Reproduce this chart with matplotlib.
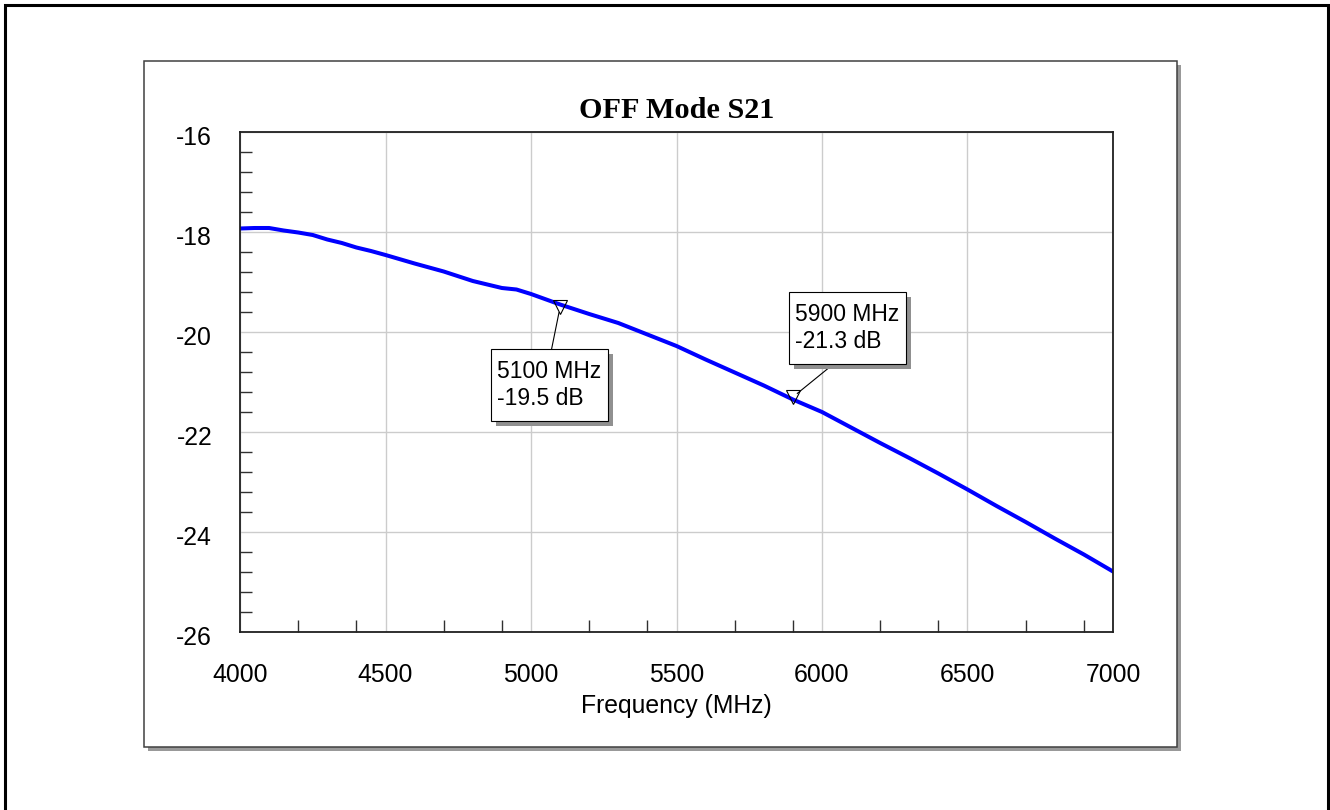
import matplotlib
matplotlib.use("Agg")
import matplotlib.pyplot as plt
import matplotlib.patheffects as pe
import matplotlib.transforms as mtransforms
from matplotlib.patches import Rectangle
from matplotlib.path import Path
from matplotlib.ticker import MultipleLocator, FixedLocator

plt.rcParams['font.family'] = ['Liberation Sans', 'DejaVu Sans']
plt.rcParams['axes.unicode_minus'] = False

# measured trace, OFF mode S21
freq = [4000, 4050, 4100, 4150, 4200, 4250, 4300, 4350, 4400, 4450, 4500,
        4600, 4700, 4800, 4900, 4950, 5000, 5100, 5200, 5300, 5400, 5500,
        5600, 5700, 5800, 5900, 6000, 6100, 6200, 6300, 6400, 6500, 6600,
        6700, 6800, 6900, 7000]
s21 = [-17.93, -17.92, -17.92, -17.97, -18.01, -18.06, -18.15, -18.22, -18.31,
       -18.38, -18.46, -18.63, -18.79, -18.98, -19.12, -19.15, -19.24, -19.45,
       -19.64, -19.82, -20.05, -20.28, -20.55, -20.81, -21.07, -21.35, -21.60,
       -21.91, -22.22, -22.52, -22.83, -23.15, -23.48, -23.80, -24.13, -24.45,
       -24.79]

# markers
mk_freq = [5100, 5900]
mk_val = [-19.5, -21.3]
mk_text = ["5100 MHz\n-19.5 dB", "5900 MHz\n-21.3 dB"]
mk_box = [(5063, -21.06), (6087, -19.92)]   # box centres
mk_rel = [(0.5, 1.0), (0.5, 0.0)]

x_ticks = [4000, 4500, 5000, 5500, 6000, 6500, 7000]
y_ticks = [-26, -24, -22, -20, -18, -16]

W, H = 1330, 810
fig = plt.figure(figsize=(W / 100, H / 100), dpi=100)


def px(x0, y0, x1, y1):
    # pixel box -> figure fraction rect
    return x0 / W, 1 - y1 / H, (x1 - x0) / W, (y1 - y0) / H


def marker_box(x0, y0, width, height, mutation_size):
    # square box, less padding left/right than top/bottom
    dx = 0.275 * mutation_size
    dy = 0.47 * mutation_size
    x0, x1 = x0 - dx, x0 + width + dx
    y0, y1 = y0 - dy, y0 + height + dy
    return Path([(x0, y0), (x1, y0), (x1, y1), (x0, y1), (x0, y0)], closed=True)


# outer frame
fig.patches.append(Rectangle((4.5 / W, -0.05), (1327.5 - 4.5) / W, 1 - 5 / H + 0.05,
                             transform=fig.transFigure, fill=False,
                             edgecolor='black', lw=2.2, zorder=-3))
# inner panel with drop shadow
l, b, w, h = px(148, 65, 1181, 751)
fig.patches.append(Rectangle((l, b), w, h, transform=fig.transFigure,
                             facecolor='#999999', edgecolor='none', zorder=-2))
l, b, w, h = px(144, 61, 1177, 747)
fig.patches.append(Rectangle((l, b), w, h, transform=fig.transFigure,
                             facecolor='white', edgecolor='#404040', lw=1.1, zorder=-1))

ax = fig.add_axes(px(240, 132, 1113, 632))
ax.plot(freq, s21, color='#0000ff', lw=2.9, solid_joinstyle='round')

ax.set_xlim(4000, 7000)
ax.set_ylim(-26, -16)
ax.set_xticks(x_ticks)
ax.set_yticks(y_ticks)
ax.xaxis.set_minor_locator(FixedLocator([m + d for m in range(4000, 7000, 500) for d in (200, 400)]))
ax.yaxis.set_minor_locator(MultipleLocator(0.4))
ax.tick_params(which='major', length=0, labelsize=17.8, labelcolor='black')
ax.tick_params(axis='x', which='major', pad=22)
ax.tick_params(axis='y', which='major', pad=20)
ax.tick_params(which='minor', direction='in', length=8.6, width=1.0, color='#303030')
ax.grid(True, which='major', color='#cccccc', lw=1.0)
ax.set_axisbelow(True)
for sp in ax.spines.values():
    sp.set_color('#202020')
    sp.set_linewidth(1.3)

# y labels sit a little below their grid line
shift = mtransforms.ScaledTranslation(0, -3.5 / 100, fig.dpi_scale_trans)
for lab in ax.get_yticklabels():
    lab.set_transform(lab.get_transform() + shift)

ax.set_xlabel('Frequency (MHz)', fontsize=17.8, labelpad=5)
ax.set_title('OFF Mode S21', family=['Liberation Serif', 'DejaVu Serif'],
             fontweight='bold', fontsize=21.8, pad=10)

ax.plot(mk_freq, mk_val, linestyle='none', marker='v', markersize=10,
        markerfacecolor='none', markeredgecolor='black', markeredgewidth=0.8)

for f, v, t, (bx, by), rp in zip(mk_freq, mk_val, mk_text, mk_box, mk_rel):
    ann = ax.annotate(t, xy=(f, v), xytext=(bx, by), textcoords='data',
                      ha='center', va='center', multialignment='left',
                      fontsize=16.5, linespacing=1.2,
                      bbox=dict(boxstyle=marker_box, facecolor='white',
                                edgecolor='black', lw=0.8),
                      arrowprops=dict(arrowstyle='-', color='black', lw=0.8,
                                      shrinkA=0, shrinkB=4, relpos=rp))
    ann.get_bbox_patch().set_path_effects(
        [pe.withSimplePatchShadow(offset=(3.6, -3.6), shadow_rgbFace='#909090', alpha=1)])

fig.savefig('out.png', dpi=100)
